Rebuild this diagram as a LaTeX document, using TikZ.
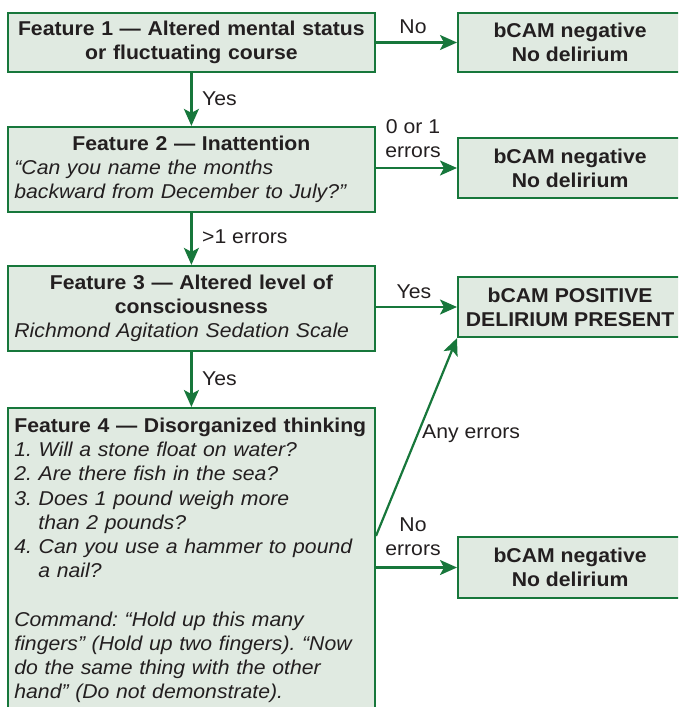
\documentclass[tikz,border=0pt]{standalone}
\usepackage{fontspec}
\setmainfont{Liberation Sans}[FakeStretch=1.06]
\usepackage{tikz}
\usetikzlibrary{arrows.meta,positioning}
\definecolor{camgreen}{HTML}{17773B}
\definecolor{camfill}{HTML}{E0EAE1}
\definecolor{camtext}{HTML}{231F20}
\frenchspacing

\begin{document}
\begin{tikzpicture}[x=1pt, y=-1pt,
  lBox/.style ={draw=camgreen, fill=camfill, line width=2.2pt, minimum width=367pt, text width=354pt, inner xsep=6.5pt, inner ysep=4pt, align=left, font=\fontsize{20}{24.2}\selectfont\color{camtext}},
  rBox/.style ={draw=camgreen, fill=camfill, line width=2.2pt, minimum width=224pt, minimum height=60pt, align=center, anchor=west, font=\fontsize{20}{24}\selectfont\bfseries\color{camtext}},
  flow/.style ={camgreen, line width=2.2pt, -{Stealth[length=17pt, width=15pt, inset=4pt]}},
  lbl/.style  ={font=\fontsize{20}{24}\selectfont\color{camtext}, inner sep=0pt, align=center},
]
% page 678 x 707, y runs downward
\clip (0,0) rectangle (678,707);

% left column: the four features
\node[lBox, minimum height=59pt] (f1) at (191.4,42.3)
  {{\centering\bfseries Feature 1 — Altered mental status\\or fluctuating course\par}};
\node[lBox, minimum height=85pt] (f2) at (191.4,169.5)
  {{\centering\bfseries Feature 2 — Inattention\par}\itshape “Can you name the months\\backward from December to July?”};
\node[lBox, minimum height=85pt] (f3) at (191.4,308.5)
  {{\centering\bfseries Feature 3 — Altered level of\\consciousness\par}\itshape Richmond Agitation Sedation Scale};
\node[lBox, anchor=north, inner ysep=10pt] (f4) at (191.4,407)
  {\textbf{Feature 4 — Disorganized thinking}\\
   \itshape 1. Will a stone float on water?\\
   2. Are there fish in the sea?\\
   3. Does 1 pound weigh more\\
   \hspace*{24pt}than 2 pounds?\\
   4. Can you use a hammer to pound\\
   \hspace*{24pt}a nail?\\[24.2pt]
   Command: “Hold up this many\\
   fingers” (Hold up two fingers). “Now\\
   do the same thing with the other\\
   hand” (Do not demonstrate).\\[20pt]
   \mbox{}};

% right column: outcomes
\node[rBox, minimum height=59pt] (neg1) at (457,42.5) {bCAM negative\\No delirium};
\node[rBox] (neg2) at (457,168) {bCAM negative\\No delirium};
\node[rBox] (pos) at (457,307) {bCAM POSITIVE\\DELIRIUM PRESENT};
\node[rBox, minimum height=61pt] (neg4) at (457,567.5) {bCAM negative\\No delirium};

% connectors
\draw[flow] (f1.south) -- (f2.north);
\draw[flow] (f2.south) -- (f3.north);
\draw[flow] (f3.south) -- (f4.north);
\draw[flow] (neg1.west -| f1.east) -- (neg1.west);
\draw[flow] (neg2.west -| f2.east) -- (neg2.west);
\draw[flow] (pos.west -| f3.east) -- (pos.west);
\draw[flow] (neg4.west -| f4.east) -- (neg4.west);
\draw[flow] (neg4.north -| f4.east) -- (pos.south west);

% labels
\node[lbl] (lNo) at (413,27) {No};
\node[lbl, anchor=west] (lYes1) at (202,99) {Yes};
\node[lbl] (lZero) at (413,139) {0 or 1\\errors};
\node[lbl, anchor=west] (lMore) at (202,237) {>1 errors};
\node[lbl] (lYes2) at (414,292) {Yes};
\node[lbl, anchor=west] (lYes3) at (202,379) {Yes};
\node[lbl, anchor=west] (lAny) at (422,434) {Any errors};
\node[lbl] (lNoErr) at (413,537) {No\\errors};
\end{tikzpicture}
\end{document}
